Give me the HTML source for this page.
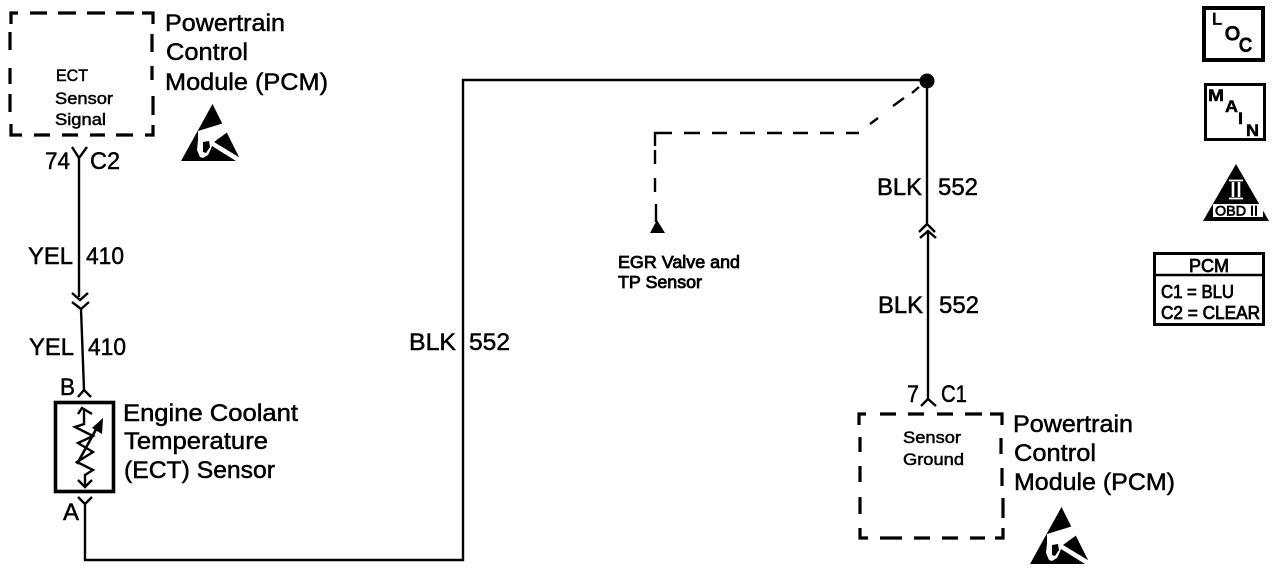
<!DOCTYPE html>
<html>
<head>
<meta charset="utf-8">
<style>
html,body{margin:0;padding:0;background:#fff;width:1280px;height:588px;overflow:hidden}
svg{display:block}
text{font-family:"Liberation Sans",sans-serif;fill:#000;stroke:#000;stroke-width:.5px}
.l{font-size:24px}
.s{font-size:16.5px}
.w{fill:#fff;stroke:#fff}
.h{stroke-width:.8px}
</style>
</head>
<body>
<svg width="1280" height="588" viewBox="0 0 1280 588" xmlns="http://www.w3.org/2000/svg">
<defs>
<g id="esd">
<path d="M212.500 104L241 161H181Z" fill="#000"/>
<path d="M198 131L224 123L229 131L214 142L242 159L242 163L236 161L212 146L210 151L208 155L203 158L200 157L197 150L198 140Z" fill="#fff"/>
<path d="M203 142L209 141L210 147L206 153L203 152Z" fill="#000"/>
</g>
</defs>

<!-- dashed modules -->
<g fill="none" stroke="#000" stroke-width="3.2">
<path d="M11 24V13H18M30 13H47M58 13H76M87 13H105M116 13H134M142 13H153V24M152 34V52M152 66V80M153 96V115M153 125V135H145M133 135H116M105 135H90M78 135H62M50 135H34M22 135H11V124M10 112V94M10 84V68M10 50V32"/>
<path d="M859 425V414H866M880 414H896M908 414H924M937 414H953M965 414H982M990 414H1002V425M1001 438V454M1002 468V486M1003 498V518M1003 528V538H995M985 538H970M958 538H942M930 538H914M902 538H880M868 538H860V528M860 514V497M860 482V466M860 452V437"/>
</g>

<!-- wires -->
<g fill="none" stroke="#000" stroke-width="2.4">
<path d="M72 147L79 158L87 147M79 158V297"/>
<path d="M72 293L80 300L88 293M72 302L81 309L89 302M81 309L84 390"/>
<path d="M78 397L84 390L91 397"/>
<path d="M78 497L85 504L92 497M85 504V560H463V80H927"/>
<path d="M927 80V223"/>
<path d="M919 232L927 224L935 232M920 238L928 231L936 238M928 231V399"/>
<path d="M921 406L928 399L936 406"/>
<rect x="55.500" y="402.500" width="58" height="89" stroke-width="3.600"/>
</g>
<circle cx="927" cy="81" r="7.500" fill="#000"/>

<!-- EGR dashed -->
<g fill="none" stroke="#000" stroke-width="2.4">
<path d="M919 87L912 93M904 98L893 106M878 118L870 124M859 133H846M834 133H820M808 133H793M782 133H767M755 133H740M727 133H712M700 133H684M672 133H655V146M655 150V164M655 178V192M656 204V222"/>
</g>
<path d="M657 220L665 233H650Z" fill="#000"/>

<!-- thermistor -->
<g fill="none" stroke="#000" stroke-width="2.4">
<path d="M78 414L82 408L92 414M84 409V424L75 427L93 436L78 443L93 452L77 462L93 470L85 475V487M78 480L85 487L92 480"/>
<path d="M77 464L99 424" stroke-width="2.6"/>
</g>
<path d="M103 418L102 434L92 428Z" fill="#000"/>

<!-- large labels -->
<text class="l" x="165" y="31" textLength="120" lengthAdjust="spacingAndGlyphs">Powertrain</text>
<text class="l" x="166" y="60" textLength="82" lengthAdjust="spacingAndGlyphs">Control</text>
<text class="l" x="165" y="90" textLength="163" lengthAdjust="spacingAndGlyphs">Module (PCM)</text>
<text class="l" x="45" y="169" textLength="25" lengthAdjust="spacingAndGlyphs">74</text>
<text class="l" x="90" y="169" textLength="30" lengthAdjust="spacingAndGlyphs">C2</text>
<text class="l" x="28" y="264" textLength="45" lengthAdjust="spacingAndGlyphs">YEL</text>
<text class="l" x="86" y="264" textLength="38" lengthAdjust="spacingAndGlyphs">410</text>
<text class="l" x="29" y="355" textLength="45" lengthAdjust="spacingAndGlyphs">YEL</text>
<text class="l" x="88" y="355" textLength="38" lengthAdjust="spacingAndGlyphs">410</text>
<text class="l" x="60" y="395" textLength="15" lengthAdjust="spacingAndGlyphs">B</text>
<text class="l" x="63" y="520" textLength="16" lengthAdjust="spacingAndGlyphs">A</text>
<text class="l" x="123" y="421" textLength="175" lengthAdjust="spacingAndGlyphs">Engine Coolant</text>
<text class="l" x="124" y="449" textLength="144" lengthAdjust="spacingAndGlyphs">Temperature</text>
<text class="l" x="124" y="478" textLength="151" lengthAdjust="spacingAndGlyphs">(ECT) Sensor</text>
<text class="l" x="409" y="350" textLength="47" lengthAdjust="spacingAndGlyphs">BLK</text>
<text class="l" x="469" y="350" textLength="41" lengthAdjust="spacingAndGlyphs">552</text>
<text class="l" x="877" y="195" textLength="45" lengthAdjust="spacingAndGlyphs">BLK</text>
<text class="l" x="938" y="195" textLength="40" lengthAdjust="spacingAndGlyphs">552</text>
<text class="l" x="878" y="313" textLength="45" lengthAdjust="spacingAndGlyphs">BLK</text>
<text class="l" x="939" y="313" textLength="40" lengthAdjust="spacingAndGlyphs">552</text>
<text class="l" x="907" y="402" textLength="12" lengthAdjust="spacingAndGlyphs">7</text>
<text class="l" x="941" y="402" textLength="26" lengthAdjust="spacingAndGlyphs">C1</text>
<text class="l" x="1013" y="432" textLength="120" lengthAdjust="spacingAndGlyphs">Powertrain</text>
<text class="l" x="1014" y="461" textLength="82" lengthAdjust="spacingAndGlyphs">Control</text>
<text class="l" x="1014" y="490" textLength="161" lengthAdjust="spacingAndGlyphs">Module (PCM)</text>

<!-- small labels -->
<text class="s" x="56" y="81" textLength="32" lengthAdjust="spacingAndGlyphs">ECT</text>
<text class="s" x="55" y="104" textLength="58" lengthAdjust="spacingAndGlyphs">Sensor</text>
<text class="s" x="55" y="125" textLength="51" lengthAdjust="spacingAndGlyphs">Signal</text>
<text class="s" x="903" y="443" textLength="58" lengthAdjust="spacingAndGlyphs">Sensor</text>
<text class="s" x="903" y="465" textLength="61" lengthAdjust="spacingAndGlyphs">Ground</text>
<text class="s h" x="618" y="268" textLength="122" lengthAdjust="spacingAndGlyphs" style="font-size:17.500px">EGR Valve and</text>
<text class="s h" x="618" y="288" textLength="84" lengthAdjust="spacingAndGlyphs" style="font-size:17.500px">TP Sensor</text>

<!-- ESD symbols -->
<use href="#esd"/>
<use href="#esd" x="849" y="403"/>

<!-- LOC -->
<rect x="1204" y="8" width="59" height="52" fill="none" stroke="#000" stroke-width="4"/>
<text x="1212" y="24.500" style="font-size:17px" class="h" textLength="10" lengthAdjust="spacingAndGlyphs">L</text>
<text x="1225" y="40" style="font-size:19px;stroke-width:1.200px" textLength="15" lengthAdjust="spacingAndGlyphs">O</text>
<text x="1239" y="51.500" style="font-size:19px;stroke-width:1.200px" textLength="13" lengthAdjust="spacingAndGlyphs">C</text>

<!-- MAIN -->
<rect x="1205.500" y="84.500" width="59" height="55" fill="none" stroke="#000" stroke-width="3"/>
<text x="1208" y="101" style="font-size:17px;font-weight:bold" textLength="16" lengthAdjust="spacingAndGlyphs">M</text>
<text x="1225" y="112" style="font-size:17px;font-weight:bold" textLength="13" lengthAdjust="spacingAndGlyphs">A</text>
<text x="1238" y="124" style="font-size:17px;font-weight:bold" textLength="5" lengthAdjust="spacingAndGlyphs">I</text>
<text x="1246" y="136" style="font-size:17px;font-weight:bold" textLength="13" lengthAdjust="spacingAndGlyphs">N</text>

<!-- OBD II -->
<path d="M1236 164L1269 221H1203Z" fill="#000"/>
<rect x="1213" y="204" width="50" height="13" fill="#fff"/>
<path d="M1229 180.500H1243M1229 198.500H1243" stroke="#fff" stroke-width="1.800"/>
<path d="M1233 182V197M1239 182V197" stroke="#fff" stroke-width="2.600"/>
<text x="1215" y="215.500" style="font-size:14px;stroke-width:.7px" textLength="43" lengthAdjust="spacingAndGlyphs">OBD II</text>

<!-- PCM table -->
<rect x="1154.500" y="253.500" width="109" height="71" fill="none" stroke="#000" stroke-width="3"/>
<path d="M1154 275H1264" stroke="#000" stroke-width="2.400" fill="none"/>
<text x="1189" y="272" class="h" style="font-size:18px" textLength="40" lengthAdjust="spacingAndGlyphs">PCM</text>
<text x="1161" y="298" class="h" style="font-size:18px" textLength="73" lengthAdjust="spacingAndGlyphs">C1 = BLU</text>
<text x="1161" y="319" class="h" style="font-size:18px" textLength="99" lengthAdjust="spacingAndGlyphs">C2 = CLEAR</text>
</svg>
</body>
</html>
